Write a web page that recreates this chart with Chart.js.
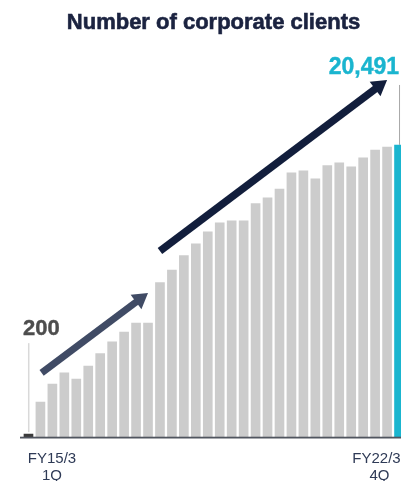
<!DOCTYPE html>
<html>
<head>
<meta charset="utf-8">
<script src="https://cdn.jsdelivr.net/npm/chart.js@4/dist/chart.umd.min.js"></script>
<style>
  html, body { margin: 0; padding: 0; background: #ffffff; overflow: hidden; width: 401px; height: 481px; }
  #wrap { position: absolute; left: 0; top: 0; width: 405px; height: 481px; }
</style>
</head>
<body>
<div id="wrap"><canvas id="c" width="405" height="481"></canvas></div>
<script>
// ---- data ----
const chartTitle = 'Number of corporate clients';
const categories = [
  'FY15/3 1Q','FY15/3 2Q','FY15/3 3Q','FY15/3 4Q',
  'FY16/3 1Q','FY16/3 2Q','FY16/3 3Q','FY16/3 4Q',
  'FY17/3 1Q','FY17/3 2Q','FY17/3 3Q','FY17/3 4Q',
  'FY18/3 1Q','FY18/3 2Q','FY18/3 3Q','FY18/3 4Q',
  'FY19/3 1Q','FY19/3 2Q','FY19/3 3Q','FY19/3 4Q',
  'FY20/3 1Q','FY20/3 2Q','FY20/3 3Q','FY20/3 4Q',
  'FY21/3 1Q','FY21/3 2Q','FY21/3 3Q','FY21/3 4Q',
  'FY22/3 1Q','FY22/3 2Q','FY22/3 3Q','FY22/3 4Q'
];
const clients = [
  200, 2450, 3720, 4510, 4070, 4980, 5850, 6670,
  7370, 8000, 8000, 10830, 11720, 12730, 13550, 14400,
  15020, 15170, 15170, 16380, 16780, 17400, 18530, 18670,
  18110, 19040, 19230, 18950, 19580, 20140, 20350, 20491
];
const startTickLabel = ['FY15/3', '1Q'];
const endTickLabel = ['FY22/3', '4Q'];
const firstValueLabel = '200';
const lastValueLabel = '20,491';
// trend arrows in data coordinates: [fromIndex, fromValue, toIndex, toValue]
const trendArrows = [
  [1.1, 4500, 10.0, 10100],
  [11.0, 13050, 30.0, 25050]
];

// ---- styles ----
const GRAY = '#cccccc', FIRST = '#3b3b3b', LAST = '#1ab5cf';
const FONT = '"Liberation Sans", Arial, Helvetica, sans-serif';
const barColors = clients.map((v, i) => i === 0 ? FIRST : (i === clients.length - 1 ? LAST : GRAY));

function drawArrow(ctx, x1, y1, x2, y2, color, shaft) {
  const ang = Math.atan2(y2 - y1, x2 - x1);
  const headLen = 15, headHalf = 9;
  const bx = x2 - headLen * Math.cos(ang), by = y2 - headLen * Math.sin(ang);
  ctx.save();
  ctx.strokeStyle = color; ctx.fillStyle = color;
  ctx.lineWidth = shaft; ctx.lineCap = 'butt';
  ctx.beginPath(); ctx.moveTo(x1, y1); ctx.lineTo(bx + Math.cos(ang), by + Math.sin(ang)); ctx.stroke();
  const px = -Math.sin(ang), py = Math.cos(ang);
  ctx.beginPath();
  ctx.moveTo(x2, y2);
  ctx.lineTo(bx + px * headHalf, by + py * headHalf);
  ctx.lineTo(bx - px * headHalf, by - py * headHalf);
  ctx.closePath(); ctx.fill();
  ctx.restore();
}

function boldText(ctx, text, x, y, color, extra) {
  ctx.fillStyle = color;
  ctx.fillText(text, x, y);
  if (extra) {
    ctx.strokeStyle = color; ctx.lineWidth = extra;
    ctx.strokeText(text, x, y);
  }
}

const decor = {
  id: 'decor',
  afterDatasetsDraw(chart) {
    const ctx = chart.ctx, area = chart.chartArea;
    const xs = chart.scales.x, ys = chart.scales.y;
    const meta = chart.getDatasetMeta(0);
    ctx.save();
    // axis line
    ctx.fillStyle = '#50555f';
    ctx.fillRect(area.left - 2.5, area.bottom - 0.3, area.right - area.left + 5, 1.8);

    // title
    ctx.font = 'bold 22px ' + FONT;
    ctx.textAlign = 'center'; ctx.textBaseline = 'alphabetic';
    boldText(ctx, chartTitle, 213.5, 29, '#1b2340', 0.6);

    // first value label + leader
    const b0 = meta.data[0];
    ctx.fillStyle = '#d9d9d9';
    ctx.fillRect(b0.x - 0.5, b0.y - 91, 1.5, 89);
    ctx.font = 'bold 22px ' + FONT;
    ctx.textAlign = 'left';
    boldText(ctx, firstValueLabel, b0.x - 5.5, b0.y - 99, '#4d4d4d', 0.4);

    // last value label + leader
    const bn = meta.data[meta.data.length - 1];
    ctx.fillStyle = '#a9a9a9';
    ctx.fillRect(bn.x, bn.y - 60, 1, 60);
    ctx.font = 'bold 23px ' + FONT;
    ctx.textAlign = 'right';
    boldText(ctx, lastValueLabel, bn.x, bn.y - 71, LAST, 0.4);

    // trend arrows
    const arrowColors = ['#404b65', '#121e3c'];
    const shafts = [7, 7.5];
    trendArrows.forEach((a, k) => {
      drawArrow(ctx, xs.getPixelForValue(a[0]), ys.getPixelForValue(a[1]),
                xs.getPixelForValue(a[2]), ys.getPixelForValue(a[3]), arrowColors[k], shafts[k]);
    });

    // end tick labels
    ctx.fillStyle = '#2e3a56';
    ctx.font = '15px ' + FONT;
    ctx.textAlign = 'center';
    const lx = b0.x + 23.5, rx = bn.x - 22.5;
    ctx.fillText(startTickLabel[0], lx, area.bottom + 26);
    ctx.fillText(startTickLabel[1], lx, area.bottom + 43);
    ctx.fillText(endTickLabel[0], rx, area.bottom + 26);
    ctx.fillText(endTickLabel[1], rx + 3, area.bottom + 43);
    ctx.restore();
  }
};

new Chart(document.getElementById('c'), {
  type: 'bar',
  data: {
    labels: categories,
    datasets: [{
      data: clients,
      backgroundColor: barColors,
      borderWidth: 0,
      barThickness: 9
    }]
  },
  options: {
    responsive: false,
    animation: false,
    devicePixelRatio: 1,
    layout: { padding: { left: 22.5, right: 0, top: 10, bottom: 44 } },
    plugins: { legend: { display: false }, tooltip: { enabled: false }, title: { display: false } },
    scales: {
      x: { display: false, offset: true, grid: { display: false } },
      y: { display: false, min: 0, max: 29960 }
    }
  },
  plugins: [decor]
});
</script>
</body>
</html>
